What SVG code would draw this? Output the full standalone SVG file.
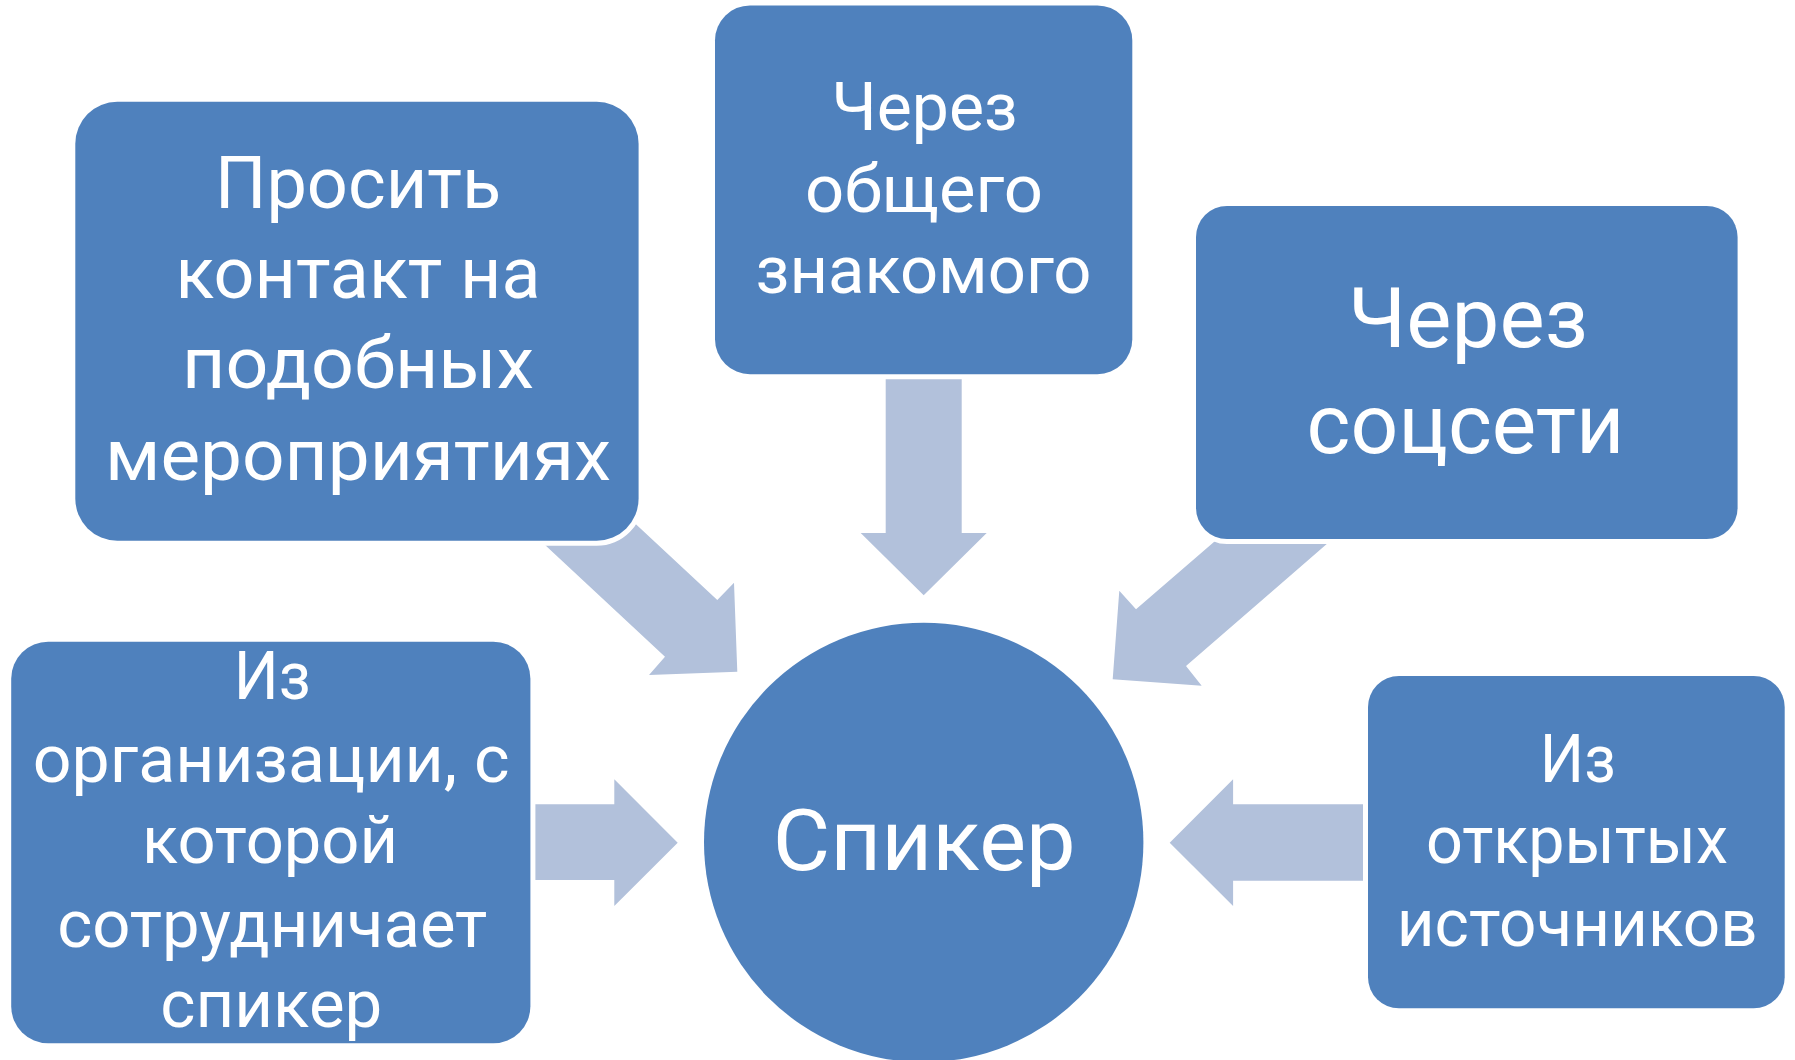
<svg xmlns="http://www.w3.org/2000/svg" width="1795" height="1060" viewBox="0 0 1795 1060">
<style>
.box{fill:#4F81BD;stroke:#FFFFFF;stroke-width:10;paint-order:stroke}
.arrow{fill:#B2C1DB;stroke:none}
.t{fill:#FFFFFF;font-family:Roboto,"Liberation Sans",sans-serif;text-anchor:middle}
</style>
<rect x="0" y="0" width="1795" height="1060" fill="#FFFFFF"/>
<g id="connectors">
<polygon class="arrow" points="502,505 665,656.7 649,675 737.3,671.7 734,582.7 717.3,600 600.2,491"/>
<polygon class="arrow" points="885.7,360 961.7,360 961.7,533 986.7,533 923.7,595.2 860.7,533 885.7,533"/>
<polygon class="arrow" points="1364.5,511.3 1186,666 1201.7,685.7 1112.7,679.3 1119.3,590.7 1136,609.3 1251,510"/>
<polygon class="arrow" points="520,804.3 614.3,804.3 614.3,779.3 677.7,842.7 614.3,906 614.3,880 520,880"/>
<polygon class="arrow" points="1380,804.3 1233.1,804.3 1233.1,779.3 1169.7,842.7 1233.1,906 1233.1,880.7 1380,880.7"/>
</g>
<g id="node-top-left">
<rect class="box" x="75.3" y="101.7" width="563.3" height="439" rx="42" ry="42"/>
<text class="t" font-size="73" x="358" y="208" textLength="286" lengthAdjust="spacingAndGlyphs">Просить</text>
<text class="t" font-size="73" x="358" y="298" textLength="365" lengthAdjust="spacingAndGlyphs">контакт на</text>
<text class="t" font-size="73" x="358" y="388" textLength="352" lengthAdjust="spacingAndGlyphs">подобных</text>
<text class="t" font-size="73" x="358" y="480" textLength="506" lengthAdjust="spacingAndGlyphs">мероприятиях</text>
</g>
<g id="node-top-center">
<rect class="box" x="715" y="5.4" width="417.3" height="368.8" rx="35" ry="35"/>
<text class="t" font-size="67" x="924.5" y="129.5" textLength="186" lengthAdjust="spacingAndGlyphs">Через</text>
<text class="t" font-size="67" x="924" y="212" textLength="238" lengthAdjust="spacingAndGlyphs">общего</text>
<text class="t" font-size="67" x="923.5" y="292.6" textLength="336" lengthAdjust="spacingAndGlyphs">знакомого</text>
</g>
<g id="node-right">
<rect class="box" x="1196" y="206" width="541.6" height="333" rx="31" ry="31"/>
<text class="t" font-size="84" x="1468" y="346.7" textLength="240" lengthAdjust="spacingAndGlyphs">Через</text>
<text class="t" font-size="84" x="1465.5" y="453.3" textLength="318" lengthAdjust="spacingAndGlyphs">соцсети</text>
</g>
<g id="node-bottom-left">
<rect class="box" x="11.2" y="641.7" width="519.2" height="401.6" rx="37" ry="37"/>
<text class="t" font-size="67" x="272.3" y="699.3" textLength="77" lengthAdjust="spacingAndGlyphs">Из</text>
<text class="t" font-size="67" x="271.2" y="781.7" textLength="477" lengthAdjust="spacingAndGlyphs">организации, с</text>
<text class="t" font-size="67" x="270" y="863.3" textLength="256" lengthAdjust="spacingAndGlyphs">которой</text>
<text class="t" font-size="67" x="272.3" y="946.7" textLength="430" lengthAdjust="spacingAndGlyphs">сотрудничает</text>
<text class="t" font-size="67" x="271.3" y="1027.3" textLength="222" lengthAdjust="spacingAndGlyphs">спикер</text>
</g>
<g id="node-bottom-right">
<rect class="box" x="1368" y="676" width="416.7" height="332.3" rx="31" ry="31"/>
<text class="t" font-size="67" x="1577.8" y="781.7" textLength="76" lengthAdjust="spacingAndGlyphs">Из</text>
<text class="t" font-size="67" x="1577" y="863.3" textLength="302" lengthAdjust="spacingAndGlyphs">открытых</text>
<text class="t" font-size="67" x="1577.2" y="945.7" textLength="361" lengthAdjust="spacingAndGlyphs">источников</text>
</g>
<g id="node-center">
<circle class="box" cx="923.7" cy="842.4" r="219.7"/>
<text class="t" font-size="86" x="924.2" y="870" textLength="303" lengthAdjust="spacingAndGlyphs">Спикер</text>
</g>
</svg>
